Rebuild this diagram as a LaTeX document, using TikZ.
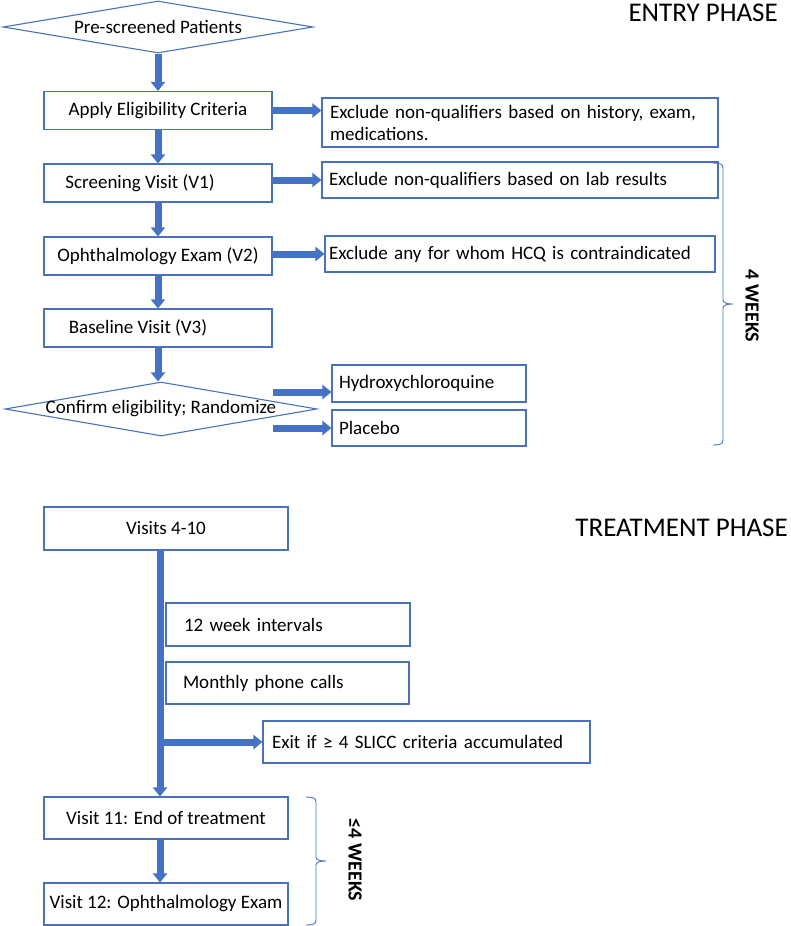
\documentclass[tikz,border=0pt]{standalone}
\usepackage{fontspec}
\setmainfont{Carlito}
\usetikzlibrary{shapes.geometric,arrows.meta}
\definecolor{lineblue}{HTML}{4A72B8}
\definecolor{arrowblue}{HTML}{4472C4}

\begin{document}
\begin{tikzpicture}[x=1pt,y=-1pt]
    \newcommand{\weekbrace}[2]{\draw[span] (#1) .. controls +(7,0) and +(0,-4) .. ++(10,5) -- ++(0,#2-9) .. controls +(0,3) and +(-6,0) .. ++(10,4) .. controls +(-6,0) and +(0,-3) .. ++(-10,4) -- ++(0,#2-9) .. controls +(0,4) and +(7,0) .. ++(-10,5);}

    \tikzstyle{box} = [rectangle, draw=lineblue, line width=1.1pt, inner sep=0pt, font=\fontsize{19}{22}\selectfont]
    \tikzstyle{stepbox} = [box, minimum width=228pt, minimum height=38pt]
    \tikzstyle{sidebox} = [box, align=left, inner xsep=7pt]
    \tikzstyle{dia} = [diamond, draw=lineblue, line width=1.1pt, inner sep=0pt, font=\fontsize{19}{22}\selectfont]
    \tikzstyle{flow} = [-{Triangle[width=14pt,length=9pt]}, line width=7pt, draw=arrowblue]
    \tikzstyle{phase} = [anchor=east, inner sep=0pt, font=\fontsize{27}{30}\selectfont]
    \tikzstyle{weeks} = [rotate=-90, inner sep=0pt, font=\bfseries\fontsize{20}{24}\selectfont]
    \tikzstyle{span} = [draw=lineblue, line width=0.9pt]

    \useasboundingbox (0,0) rectangle (790,926);

    {
      \node[phase] (entry) at (778,13) {ENTRY PHASE};
      \node[phase] (treat) at (788,528) {TREATMENT PHASE};

      \node[dia, minimum width=310pt, minimum height=52pt] (pre) at (158,27) {\makebox[0pt]{Pre-screened Patients}};
      \node[stepbox] (apply) at (158,110.5) {Apply Eligibility Criteria};
      \node[stepbox] (scr) at (158,183) {Screening Visit (V1)\hspace*{36pt}};
      \node[stepbox] (oph) at (158,256) {Ophthalmology Exam (V2)};
      \node[stepbox] (base) at (158,328) {Baseline Visit (V3)\hspace*{40pt}};
      \node[dia, minimum width=312pt, minimum height=54pt] (conf) at (161,409) {\makebox[0pt]{Confirm eligibility; Randomize}};

      \node[sidebox, text width=380pt, minimum height=49pt, inner xsep=8pt] (excl1) at (520,122.5) {Exclude non-qualifiers based on history, exam,\\medications.};
      \node[sidebox, text width=382pt, minimum height=36pt] (excl2) at (520,180) {Exclude non-qualifiers based on lab results};
      \node[sidebox, text width=382pt, minimum height=36pt, inner xsep=4pt] (excl3) at (520,254) {Exclude any for whom HCQ is contraindicated};
      \node[sidebox, text width=180pt, minimum height=37pt] (hcq) at (429,383.5) {Hydroxychloroquine};
      \node[sidebox, text width=180pt, minimum height=36pt] (plac) at (429,428) {Placebo};
    }

    {
      \node[box, minimum width=244pt, minimum height=43pt] (v410) at (166,528.5) {Visits 4-10};
      \node[sidebox, text width=208pt, minimum height=43pt, inner xsep=18pt] (wk12) at (288,624.5) {12 week intervals};
      \node[sidebox, text width=209pt, minimum height=42pt, inner xsep=17pt] (phone) at (287.5,683) {Monthly phone calls};
      \node[sidebox, text width=309pt, minimum height=42pt, inner xsep=9pt] (exit) at (426.5,742) {Exit if ≥ 4 SLICC criteria accumulated};
      \node[box, minimum width=244pt, minimum height=42pt] (v11) at (166,818) {Visit 11: End of treatment};
      \node[box, minimum width=244pt, minimum height=42pt] (v12) at (166,904) {Visit 12: Ophthalmology Exam};
    }

    {
      \coordinate (toHcq) at (273,392);
      \coordinate (toPlac) at (273,428);
      \coordinate (wkTop) at (713,163);
      \coordinate (endTop) at (306,797);
    }

    {
      \draw[flow] (pre.south) -- (pre.south |- apply.north);
      \draw[flow] (apply.south) -- (scr.north);
      \draw[flow] (scr.south) -- (oph.north);
      \draw[flow] (oph.south) -- (base.north);
      \draw[flow] (base.south) -- (base.south |- conf.north);

      \draw[flow] (apply.east) -- (apply.east -| excl1.west);
      \draw[flow] (scr.east |- excl2.west) -- (excl2.west);
      \draw[flow] (oph.east |- excl3.west) -- (excl3.west);
      \draw[flow] (toHcq) -- (toHcq -| hcq.west);
      \draw[flow] (toPlac) -- (plac.west);

      \draw[flow] ([xshift=-6pt]v410.south) -- ([xshift=-6pt]v11.north);
      \draw[flow] ([xshift=-3pt]exit.west -| v410.south) -- (exit.west);
      \draw[flow] ([xshift=-6pt]v11.south) -- ([xshift=-6pt]v12.north);
    }

    {
      \weekbrace{wkTop}{141}
      \weekbrace{endTop}{64}
      \node[weeks] (wkLabel) at (752,306) {4 WEEKS};
      \node[weeks] (endLabel) at (355,860) {≤4 WEEKS};
    }
\end{tikzpicture}
\end{document}
